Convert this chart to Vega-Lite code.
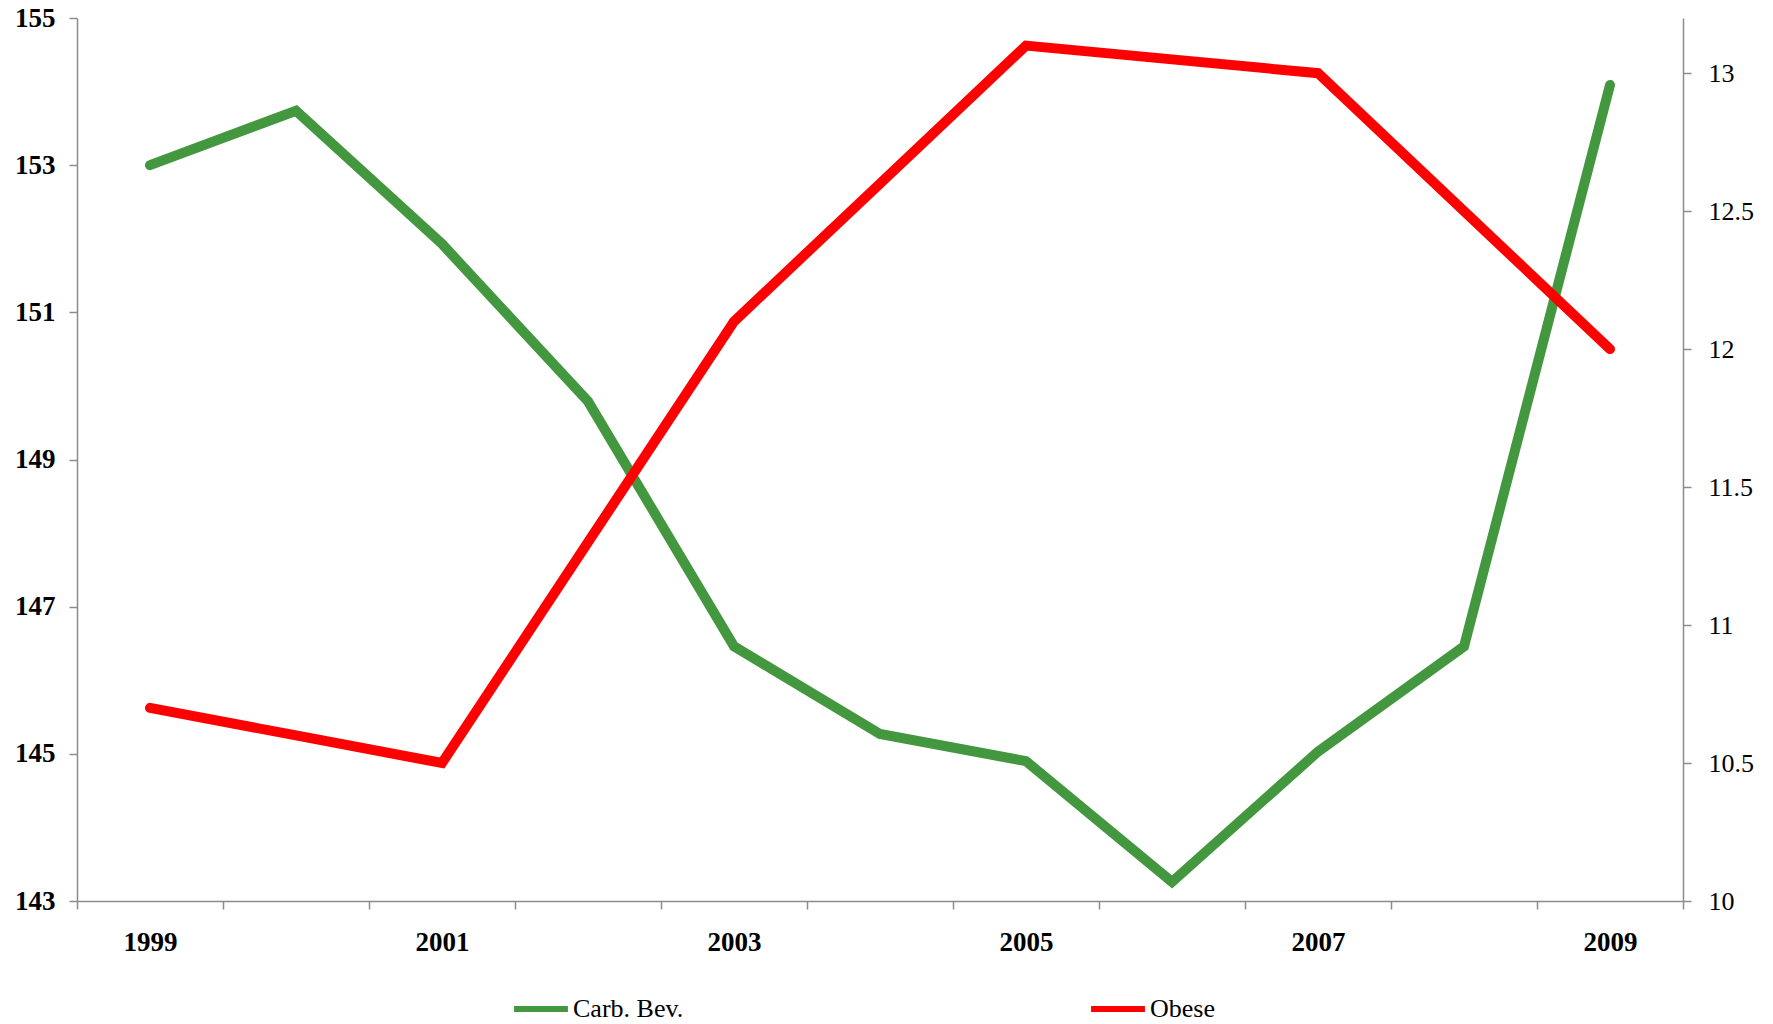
{
  "$schema": "https://vega.github.io/schema/vega-lite/v6.json",
  "width": 1606,
  "height": 883,
  "autosize": {"type": "none"},
  "padding": {"left": 77, "top": 18, "right": 90, "bottom": 123},
  "background": "white",
  "config": {
    "view": {"stroke": null},
    "font": "Liberation Serif",
    "axis": {
      "domainColor": "#8c8c8c",
      "tickColor": "#8c8c8c",
      "domainWidth": 1.5,
      "tickWidth": 1.5,
      "tickSize": 8,
      "grid": false,
      "labelFont": "Liberation Serif",
      "labelFontSize": 27,
      "labelColor": "#000000",
      "title": null
    }
  },
  "data": {
    "values": [
      {"year": "1999", "series": "Carb. Bev.", "value": 153.0},
      {"year": "2000", "series": "Carb. Bev.", "value": 153.74},
      {"year": "2001", "series": "Carb. Bev.", "value": 151.93},
      {"year": "2002", "series": "Carb. Bev.", "value": 149.79},
      {"year": "2003", "series": "Carb. Bev.", "value": 146.46},
      {"year": "2004", "series": "Carb. Bev.", "value": 145.27},
      {"year": "2005", "series": "Carb. Bev.", "value": 144.9},
      {"year": "2006", "series": "Carb. Bev.", "value": 143.26},
      {"year": "2007", "series": "Carb. Bev.", "value": 145.03},
      {"year": "2008", "series": "Carb. Bev.", "value": 146.46},
      {"year": "2009", "series": "Carb. Bev.", "value": 154.09},
      {"year": "1999", "series": "Obese", "value": 10.7},
      {"year": "2000", "series": "Obese", "value": 10.6},
      {"year": "2001", "series": "Obese", "value": 10.5},
      {"year": "2002", "series": "Obese", "value": 11.3},
      {"year": "2003", "series": "Obese", "value": 12.1},
      {"year": "2004", "series": "Obese", "value": 12.6},
      {"year": "2005", "series": "Obese", "value": 13.1},
      {"year": "2006", "series": "Obese", "value": 13.05},
      {"year": "2007", "series": "Obese", "value": 13.0},
      {"year": "2008", "series": "Obese", "value": 12.5},
      {"year": "2009", "series": "Obese", "value": 12.0}
    ]
  },
  "encoding": {
    "x": {
      "field": "year",
      "type": "ordinal",
      "scale": {"paddingInner": 0, "paddingOuter": 0},
      "axis": {
        "labelAngle": 0,
        "tickBand": "extent",
        "labelPadding": 20,
        "labelFontWeight": "bold",
        "labelExpr": "(+datum.value) % 2 == 1 ? datum.value : ''"
      }
    },
    "color": {
      "field": "series",
      "type": "nominal",
      "scale": {"domain": ["Carb. Bev.", "Obese"], "range": ["#43983F", "#FF0000"]},
      "legend": {
        "title": null,
        "orient": "none",
        "direction": "horizontal",
        "columns": 2,
        "legendX": 434,
        "legendY": 961,
        "padding": 0,
        "columnPadding": 395,
        "symbolSize": 2900,
        "symbolStrokeWidth": 6,
        "labelFontSize": 26,
        "labelFont": "Liberation Serif",
        "labelOffset": 2,
        "labelColor": "#000000"
      }
    }
  },
  "layer": [
    {
      "transform": [{"filter": "datum.series == 'Carb. Bev.'"}],
      "mark": {"type": "line", "strokeWidth": 10, "strokeCap": "round", "strokeJoin": "miter"},
      "encoding": {
        "y": {
          "field": "value",
          "type": "quantitative",
          "scale": {"domain": [143, 155], "zero": false, "nice": false},
          "axis": {"values": [143, 145, 147, 149, 151, 153, 155], "labelPadding": 14, "labelFontWeight": "bold"}
        }
      }
    },
    {
      "transform": [{"filter": "datum.series == 'Obese'"}],
      "mark": {"type": "line", "strokeWidth": 10, "strokeCap": "round", "strokeJoin": "miter"},
      "encoding": {
        "y": {
          "field": "value",
          "type": "quantitative",
          "scale": {"domain": [10, 13.2], "zero": false, "nice": false},
          "axis": {"orient": "right", "values": [10, 10.5, 11, 11.5, 12, 12.5, 13], "format": "~g", "labelPadding": 17, "labelFontSize": 26}
        }
      }
    }
  ],
  "resolve": {"scale": {"y": "independent"}}
}
